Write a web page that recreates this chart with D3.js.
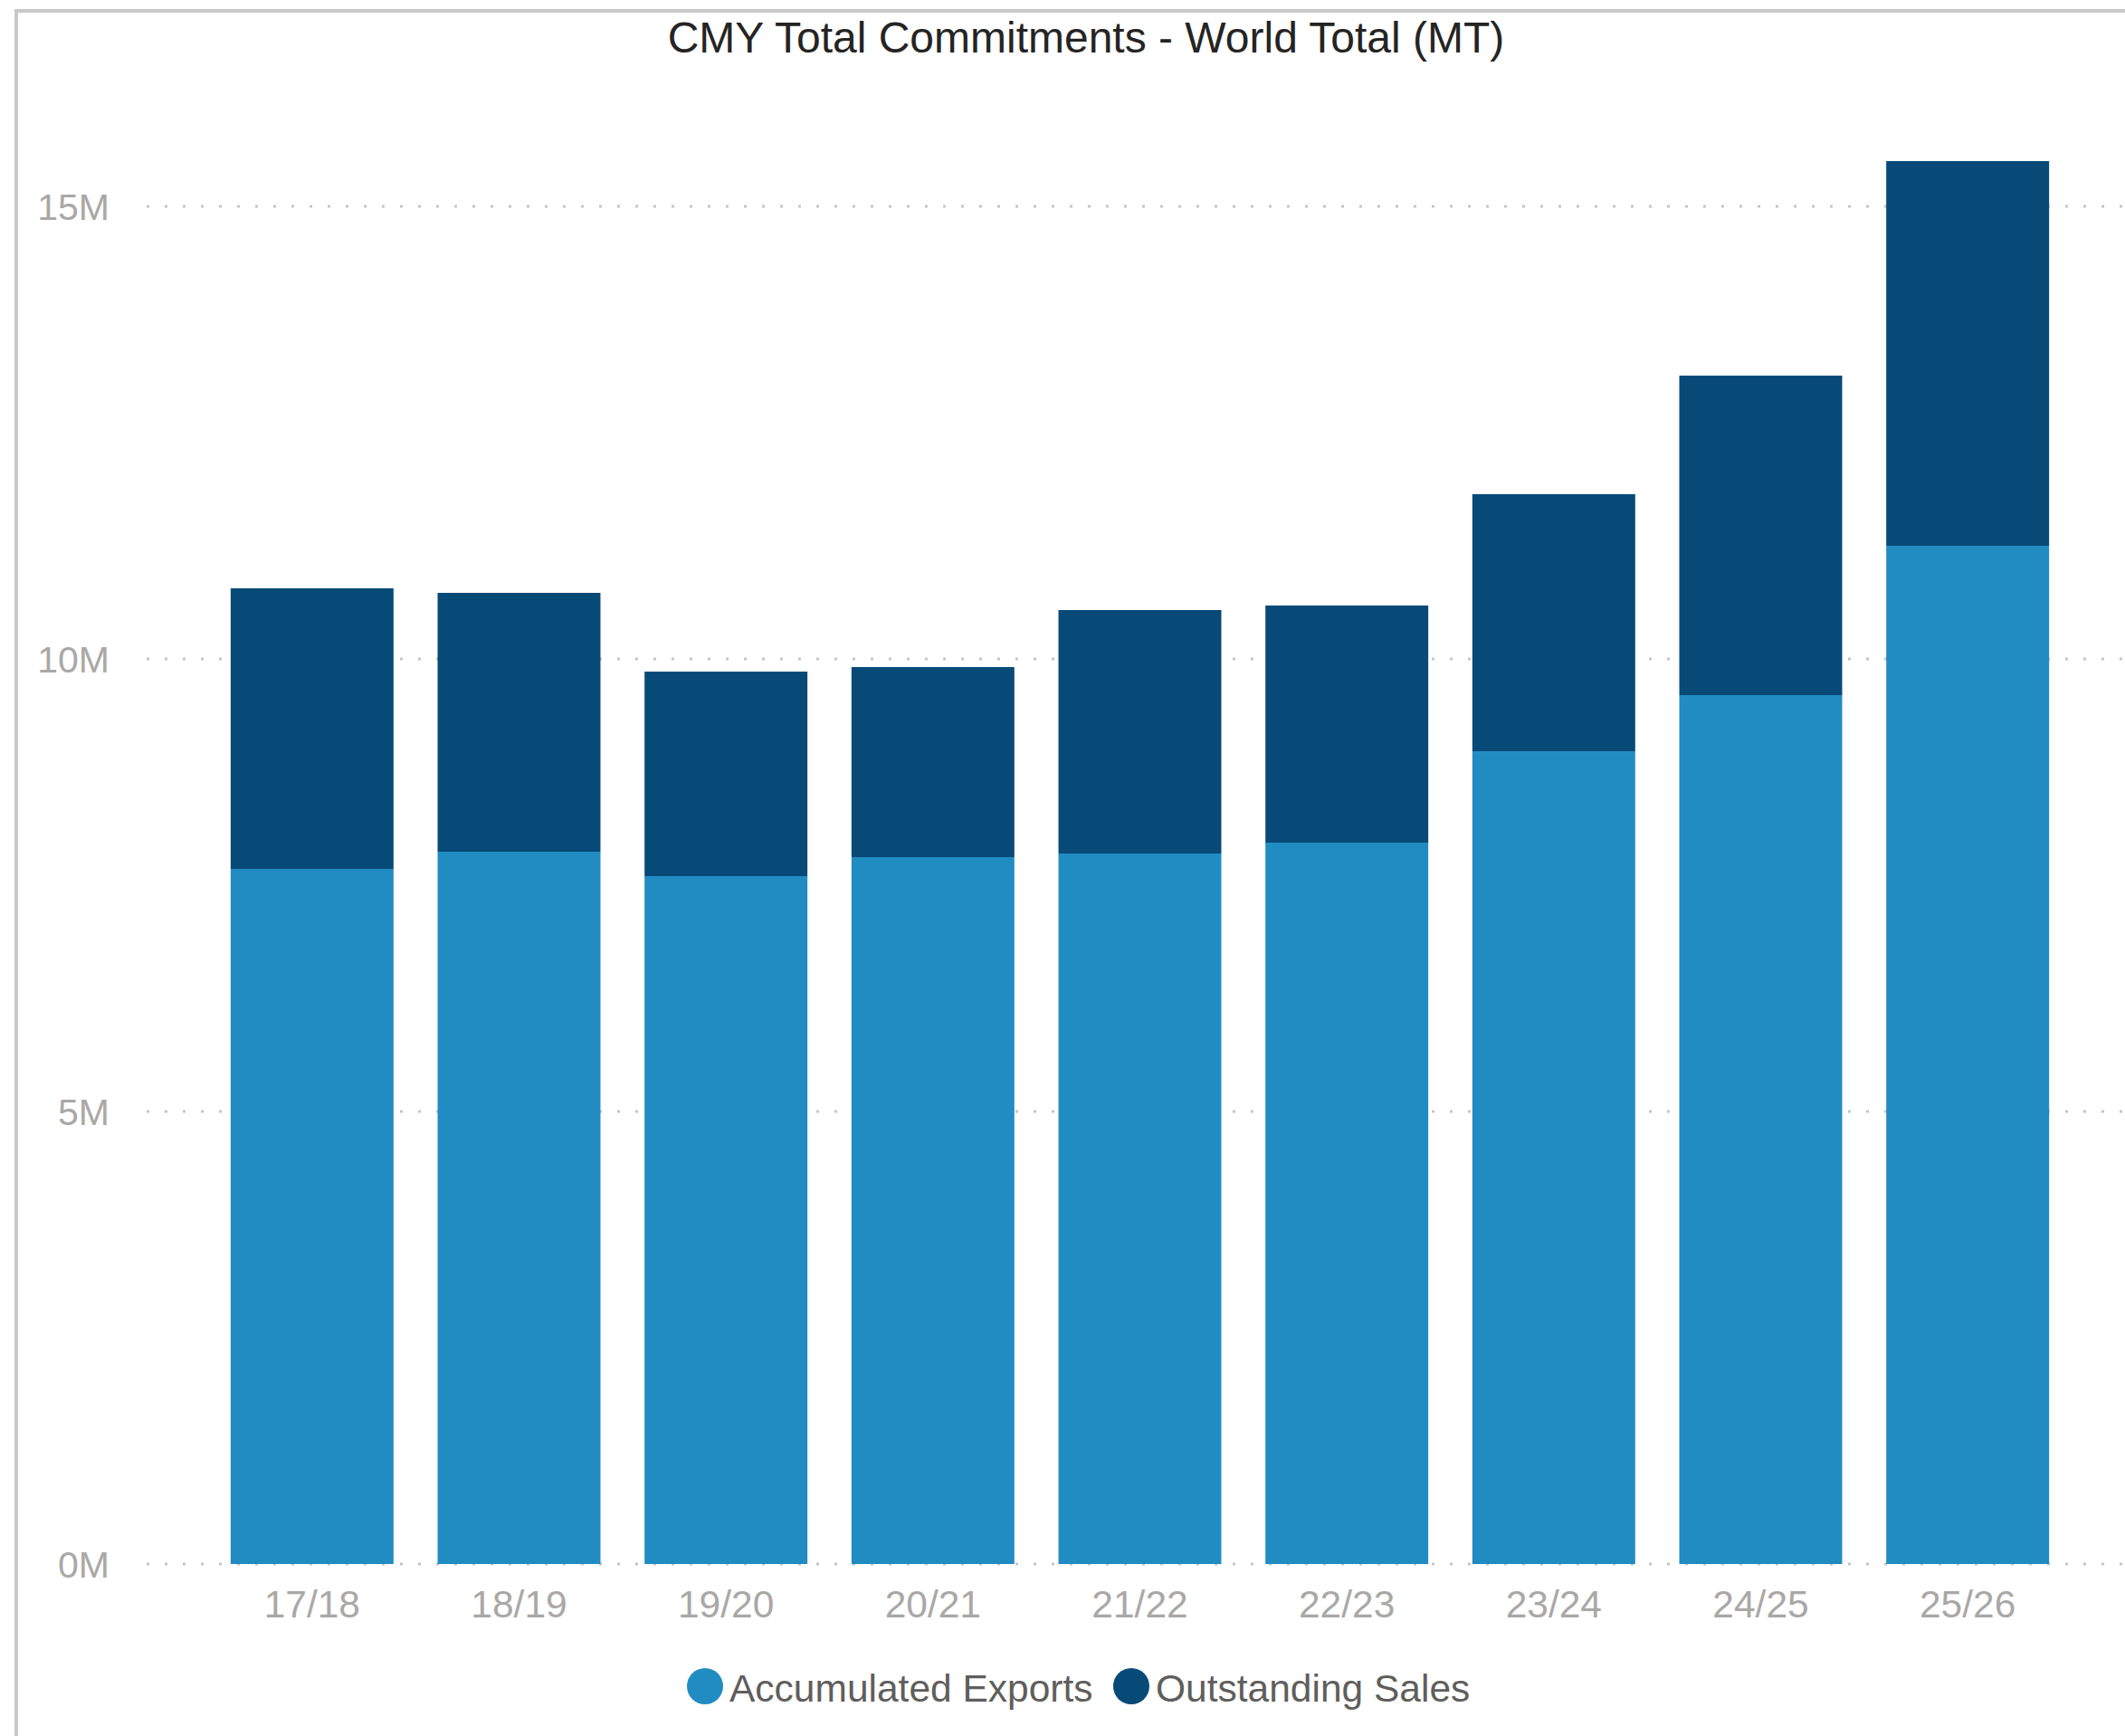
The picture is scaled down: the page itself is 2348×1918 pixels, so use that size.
<!DOCTYPE html>
<html>
<head>
<meta charset="utf-8">
<script src="https://cdn.jsdelivr.net/npm/d3@7/dist/d3.min.js"></script>
<style>
html,body{margin:0;padding:0;background:#fff;}
svg{display:block;}
</style>
</head>
<body>
<svg id="chart" width="2348" height="1918"></svg>
<script>
const categories = ["17/18","18/19","19/20","20/21","21/22","22/23","23/24","24/25","25/26"];
const accumulatedExports = [7.68e6, 7.87e6, 7.60e6, 7.81e6, 7.85e6, 7.97e6, 8.98e6, 9.60e6, 11.25e6];
const outstandingSales   = [3.10e6, 2.86e6, 2.26e6, 2.10e6, 2.69e6, 2.62e6, 2.84e6, 3.53e6, 4.25e6];
const yTicks = [0, 5e6, 10e6, 15e6];
const seriesNames = ["Accumulated Exports", "Outstanding Sales"];
const colors = ["#218CC2", "#074A78"];

const svg = d3.select("#chart");
const font = "'Liberation Sans', Arial, Helvetica, sans-serif";

// frame border
svg.append("rect").attr("x", 18).attr("y", 12).attr("width", 2400).attr("height", 2000)
  .attr("fill", "none").attr("stroke", "#c8c8c8").attr("stroke-width", 4);

const y = d3.scaleLinear().domain([0, 15e6]).range([1728, 228]);
const x = d3.scaleBand().domain(categories).range([230.5, 2288.5])
  .paddingInner(0.213).paddingOuter(0.1065);

// gridlines
svg.append("g").selectAll("line").data(yTicks).join("line")
  .attr("x1", 162).attr("x2", 2348)
  .attr("y1", d => y(d)).attr("y2", d => y(d))
  .attr("stroke", "#c8c6c4").attr("stroke-width", 3)
  .attr("stroke-dasharray", "3,17");

// y axis labels
const fmt = d => (d / 1e6) + "M";
svg.append("g").selectAll("text").data(yTicks).join("text")
  .attr("x", 121).attr("y", d => y(d)).attr("dy", "0.36em")
  .attr("text-anchor", "end")
  .attr("font-family", font).attr("font-size", 41).attr("fill", "#aaa8a6")
  .text(fmt);

// stacked data
const rows = categories.map((c, i) => ({cat: c, acc: accumulatedExports[i], out: outstandingSales[i]}));
const stack = d3.stack().keys(["acc", "out"])(rows);

svg.append("g").selectAll("g").data(stack).join("g")
  .attr("fill", (d, i) => colors[i])
  .selectAll("rect").data(d => d).join("rect")
  .attr("x", d => x(d.data.cat))
  .attr("width", x.bandwidth())
  .attr("y", d => y(d[1]))
  .attr("height", d => y(d[0]) - y(d[1]));

// x axis labels
svg.append("g").selectAll("text").data(categories).join("text")
  .attr("x", d => x(d) + x.bandwidth() / 2).attr("y", 1787)
  .attr("text-anchor", "middle")
  .attr("font-family", font).attr("font-size", 42.5).attr("fill", "#aaa8a6")
  .text(d => d);

// title
svg.append("text").attr("x", 1200).attr("y", 58).attr("text-anchor", "middle")
  .attr("font-family", font).attr("font-size", 48).attr("fill", "#252423")
  .text("CMY Total Commitments - World Total (MT)");

// legend
const legend = svg.append("g");
const legendItems = [{name: seriesNames[0], cx: 779, tx: 806}, {name: seriesNames[1], cx: 1250, tx: 1277}];
legendItems.forEach((it, i) => {
  legend.append("circle").attr("cx", it.cx).attr("cy", 1863).attr("r", 20).attr("fill", colors[i]);
  legend.append("text").attr("x", it.tx).attr("y", 1880)
    .attr("font-family", font).attr("font-size", 42.5).attr("fill", "#605e5c")
    .text(it.name);
});
</script>
</body>
</html>
